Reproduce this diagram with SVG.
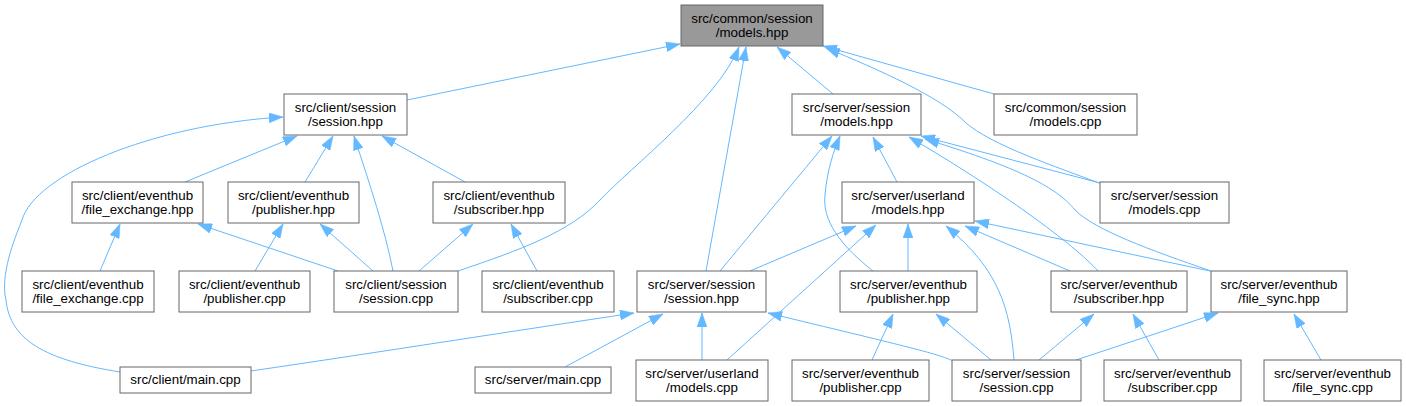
<svg xmlns="http://www.w3.org/2000/svg" width="1406" height="406" viewBox="0 0 1406 406">
<defs>
<style>
.n rect{fill:#ffffff;stroke:#666666;stroke-width:1}
.n.main rect{fill:#999999}
.n text{font-family:"Liberation Sans",Arial,Helvetica,sans-serif;font-size:13.33px;fill:#000000;text-anchor:middle}
#edges path{fill:none;stroke:#63b8ff;stroke-width:1;marker-end:url(#ah)}
</style>
<marker id="ah" viewBox="0 0 14 10" refX="14" refY="5" markerWidth="14" markerHeight="10" markerUnits="userSpaceOnUse" orient="auto">
<path d="M0,0 L14,5 L0,10 z" fill="#63b8ff" stroke="#63b8ff" stroke-width="0.5"/>
</marker>
</defs>
<rect width="1406" height="406" fill="#ffffff"/>
<g id="edges">
<path d="M407,100 L680,44"/>
<path d="M458,271 C520,250 570,232 600,200 S718,100 739,47"/>
<path d="M706,271 L746,47"/>
<path d="M833,94 L777,47"/>
<path d="M994,94 L823,46"/>
<path d="M1099,183 C1060,168 990,145 965,122 C940,97 880,70 826,48"/>
<path d="M720,271 L832,136"/>
<path d="M873,271 C840,245 822,220 825,195 C827,170 834,150 840,136"/>
<path d="M897,182 L873,137"/>
<path d="M1098,271 C1075,245 1000,190 909,137"/>
<path d="M1100,183 L921,136"/>
<path d="M1211,271 C1150,250 1095,230 1075,210 C1055,185 1010,165 925,139"/>
<path d="M750,271 L856,226"/>
<path d="M727,360 L876,225"/>
<path d="M908,271 L908,224"/>
<path d="M1014,360 C1010,310 1000,270 946,226"/>
<path d="M1070,271 L965,226"/>
<path d="M1210,271 L975,221"/>
<path d="M251,371 C380,352 520,330 634,313"/>
<path d="M565,367 L663,314"/>
<path d="M702,360 L702,313"/>
<path d="M953,361 C940,354 900,345 768,313"/>
<path d="M872,360 L893,314"/>
<path d="M991,360 L936,314"/>
<path d="M1039,360 L1094,314"/>
<path d="M1159,360 L1133,314"/>
<path d="M1076,360 L1218,313"/>
<path d="M1321,360 L1294,314"/>
<path d="M120,372 C45,360 10,340 6,300 C0,275 14,240 22,220 C35,175 150,125 283,117"/>
<path d="M185,182 L297,136"/>
<path d="M305,182 L333,136"/>
<path d="M393,271 C385,230 370,185 354,136"/>
<path d="M465,182 L382,136"/>
<path d="M100,271 L120,224"/>
<path d="M338,271 L198,224"/>
<path d="M255,271 L283,224"/>
<path d="M373,271 L320,224"/>
<path d="M419,271 L473,224"/>
<path d="M537,271 L511,224"/>
</g>
<g id="common_models_hpp" class="n main"><rect x="681" y="5" width="142" height="41"/><text x="752" y="22.5">src/common/session</text><text x="752" y="37">/models.hpp</text></g>
<g id="client_session_hpp" class="n"><rect x="284" y="94" width="123" height="41"/><text x="345.5" y="111.5">src/client/session</text><text x="345.5" y="126">/session.hpp</text></g>
<g id="server_session_models_hpp" class="n"><rect x="792" y="94" width="129" height="41"/><text x="856.5" y="111.5">src/server/session</text><text x="856.5" y="126">/models.hpp</text></g>
<g id="common_models_cpp" class="n"><rect x="994" y="94" width="143" height="41"/><text x="1065.5" y="111.5">src/common/session</text><text x="1065.5" y="126">/models.cpp</text></g>
<g id="client_file_exchange_hpp" class="n"><rect x="72" y="182" width="131" height="41"/><text x="137.5" y="199.5">src/client/eventhub</text><text x="137.5" y="214">/file_exchange.hpp</text></g>
<g id="client_publisher_hpp" class="n"><rect x="228" y="182" width="131" height="41"/><text x="293.5" y="199.5">src/client/eventhub</text><text x="293.5" y="214">/publisher.hpp</text></g>
<g id="client_subscriber_hpp" class="n"><rect x="433" y="182" width="132" height="41"/><text x="499" y="199.5">src/client/eventhub</text><text x="499" y="214">/subscriber.hpp</text></g>
<g id="userland_models_hpp" class="n"><rect x="842" y="182" width="132" height="41"/><text x="908" y="199.5">src/server/userland</text><text x="908" y="214">/models.hpp</text></g>
<g id="server_session_models_cpp" class="n"><rect x="1100" y="182" width="129" height="41"/><text x="1164.5" y="199.5">src/server/session</text><text x="1164.5" y="214">/models.cpp</text></g>
<g id="client_file_exchange_cpp" class="n"><rect x="22" y="271" width="132" height="41"/><text x="88" y="288.5">src/client/eventhub</text><text x="88" y="303">/file_exchange.cpp</text></g>
<g id="client_publisher_cpp" class="n"><rect x="179" y="271" width="131" height="41"/><text x="244.5" y="288.5">src/client/eventhub</text><text x="244.5" y="303">/publisher.cpp</text></g>
<g id="client_session_cpp" class="n"><rect x="334" y="271" width="124" height="41"/><text x="396" y="288.5">src/client/session</text><text x="396" y="303">/session.cpp</text></g>
<g id="client_subscriber_cpp" class="n"><rect x="482" y="271" width="132" height="41"/><text x="548" y="288.5">src/client/eventhub</text><text x="548" y="303">/subscriber.cpp</text></g>
<g id="server_session_hpp" class="n"><rect x="637" y="271" width="129" height="41"/><text x="701.5" y="288.5">src/server/session</text><text x="701.5" y="303">/session.hpp</text></g>
<g id="server_publisher_hpp" class="n"><rect x="840" y="271" width="137" height="41"/><text x="908.5" y="288.5">src/server/eventhub</text><text x="908.5" y="303">/publisher.hpp</text></g>
<g id="server_subscriber_hpp" class="n"><rect x="1051" y="271" width="136" height="41"/><text x="1119" y="288.5">src/server/eventhub</text><text x="1119" y="303">/subscriber.hpp</text></g>
<g id="server_file_sync_hpp" class="n"><rect x="1211" y="271" width="136" height="41"/><text x="1279" y="288.5">src/server/eventhub</text><text x="1279" y="303">/file_sync.hpp</text></g>
<g id="client_main_cpp" class="n"><rect x="120" y="367" width="131" height="26"/><text x="185.5" y="384">src/client/main.cpp</text></g>
<g id="server_main_cpp" class="n"><rect x="475" y="367" width="136" height="26"/><text x="543" y="384">src/server/main.cpp</text></g>
<g id="userland_models_cpp" class="n"><rect x="636" y="360" width="132" height="41"/><text x="702" y="377.5">src/server/userland</text><text x="702" y="392">/models.cpp</text></g>
<g id="server_publisher_cpp" class="n"><rect x="792" y="360" width="137" height="41"/><text x="860.5" y="377.5">src/server/eventhub</text><text x="860.5" y="392">/publisher.cpp</text></g>
<g id="server_session_cpp" class="n"><rect x="952" y="360" width="129" height="41"/><text x="1016.5" y="377.5">src/server/session</text><text x="1016.5" y="392">/session.cpp</text></g>
<g id="server_subscriber_cpp" class="n"><rect x="1104" y="360" width="137" height="41"/><text x="1172.5" y="377.5">src/server/eventhub</text><text x="1172.5" y="392">/subscriber.cpp</text></g>
<g id="server_file_sync_cpp" class="n"><rect x="1264" y="360" width="137" height="41"/><text x="1332.5" y="377.5">src/server/eventhub</text><text x="1332.5" y="392">/file_sync.cpp</text></g>
</svg>
